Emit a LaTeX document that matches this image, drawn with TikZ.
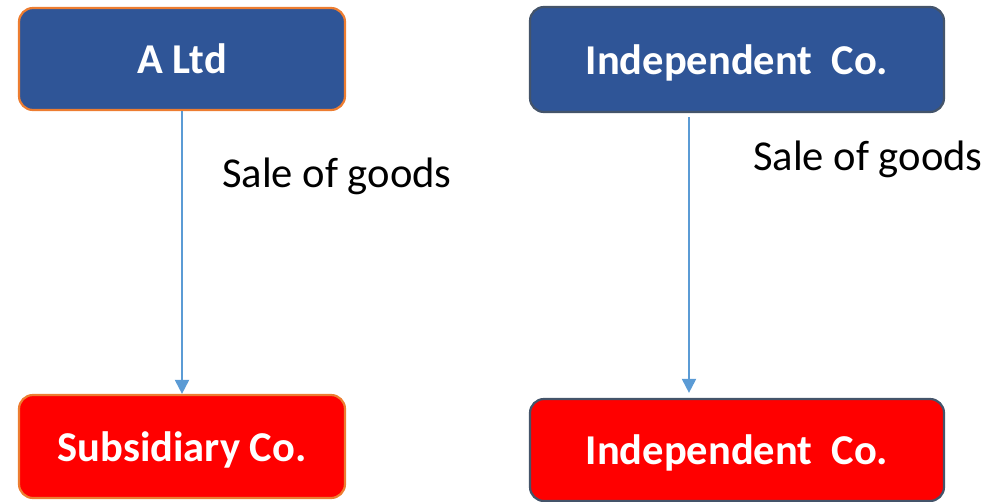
\documentclass[tikz,border=0pt]{standalone}
\usepackage{fontspec}
\setmainfont{Carlito}
\usetikzlibrary{arrows.meta}
\definecolor{boxblue}{HTML}{2F5597}
\definecolor{boxred}{HTML}{FF0000}
\definecolor{edgeorange}{HTML}{ED7D31}
\definecolor{edgeslate}{HTML}{44546A}
\definecolor{flowblue}{HTML}{5B9BD5}
\tikzset{
  company/.style={rectangle, rounded corners=14pt, line width=2.2pt,
    text=white, font=\fontsize{42.5}{48}\selectfont\bfseries, inner sep=0pt,
    text height=29pt, text depth=0pt},
  flow/.style={draw=flowblue, line width=2pt, -{Triangle[length=14pt,width=14pt]}},
  flowlabel/.style={anchor=base west, inner sep=0pt, font=\fontsize{42.6}{48}\selectfont}
}
\begin{document}
\begin{tikzpicture}[x=1pt,y=-1pt]
  \useasboundingbox (0,0) rectangle (996,501);
  % parent and its subsidiary
  \node[company, fill=boxblue, draw=edgeorange, minimum width=326pt, minimum height=102pt] (altd) at (182,59) {A Ltd};
  \node[company, fill=boxred, draw=edgeorange, minimum width=326pt, minimum height=103pt] (sub) at (182,446.5) {Subsidiary Co.};
  % two independent companies
  \node[company, fill=boxblue, draw=edgeslate, minimum width=414pt, minimum height=105pt] (indtop) at (737,59.5) {Independent\ \ Co.};
  \node[company, fill=boxred, draw=edgeslate, minimum width=414pt, minimum height=102pt] (indbot) at (737,450) {Independent\ \ Co.};
  % sale flows
  \draw[flow] (altd.south) -- (sub.north);
  \coordinate (rx) at (689,0);
  \draw[flow, shorten <=4pt, shorten >=5pt] (rx |- indtop.south) -- (rx |- indbot.north);
  \node[flowlabel] (lbl1) at (222,187) {Sale of goods};
  \node[flowlabel] (lbl2) at (753,170) {Sale of goods};
\end{tikzpicture}
\end{document}
